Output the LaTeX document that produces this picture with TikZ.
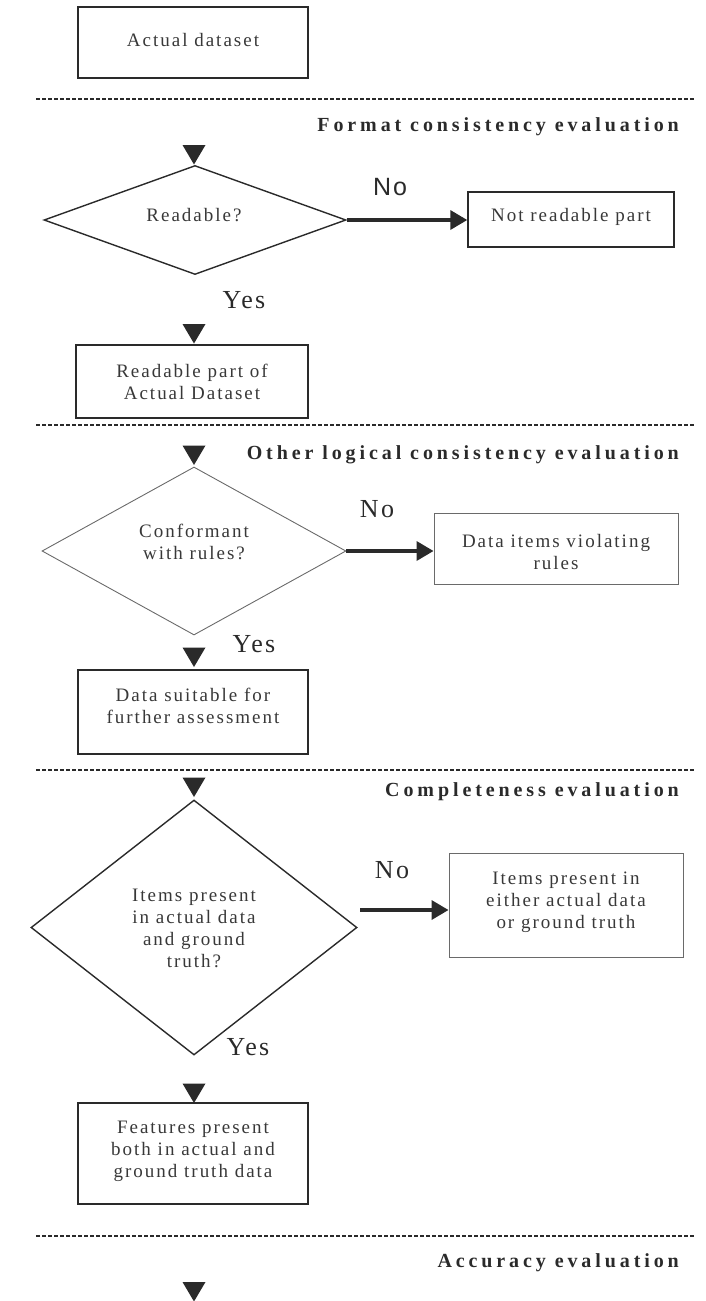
\documentclass[tikz,border=0pt]{standalone}
\usepackage{fontspec}
\setmainfont{Liberation Serif}
\newfontfamily\sansno{Liberation Sans}
\usetikzlibrary{shapes.geometric,arrows.meta}
\definecolor{ink}{HTML}{2a2a2a}
\definecolor{txt}{HTML}{383838}
\definecolor{thin}{HTML}{6a6a6a}
\tikzset{
  bodyfont/.style={font=\fontsize{19}{22}\selectfont\addfontfeature{LetterSpace=10.5}},
  box/.style={draw=ink,line width=1.4pt,rectangle,inner sep=0pt,align=center,text=txt,bodyfont},
  thinbox/.style={box,draw=thin,line width=0.9pt},
  dia/.style={draw=ink,line width=1.4pt,diamond,inner sep=0pt,align=center,text=txt,bodyfont},
  thindia/.style={dia,draw=thin,line width=0.9pt},
  inner/.style={inner sep=0pt,align=center,text=txt,bodyfont},
  title/.style={anchor=east,inner sep=0pt,text=ink,
    font=\fontsize{20}{22}\selectfont\bfseries\addfontfeature{LetterSpace=19.5}},
  yn/.style={inner sep=0pt,text=ink,font=\fontsize{26}{28}\selectfont\addfontfeature{LetterSpace=9}},
  sep/.style={line width=1.7pt,dash pattern=on 4pt off 2pt,draw=ink},
  arr/.style={line width=3.5pt,draw=ink,-{Triangle[length=17pt,width=19pt]}},
  downtri/.pic={\fill[ink] (-11.5,0) -- (11.5,0) -- (0,19.5) -- cycle;}
}
\begin{document}
\begin{tikzpicture}[x=1pt,y=-1pt]
\useasboundingbox (0,0) rectangle (705,1301);
% separators
\coordinate (s1l) at (36,99);   \coordinate (s1r) at (695,99);
\coordinate (s2l) at (36,425);  \coordinate (s2r) at (695,425);
\coordinate (s3l) at (36,770);  \coordinate (s3r) at (695,770);
\coordinate (s4l) at (36,1236); \coordinate (s4r) at (695,1236);
\draw[sep] (s1l) -- (s1r);
\draw[sep] (s2l) -- (s2r);
\draw[sep] (s3l) -- (s3r);
\draw[sep] (s4l) -- (s4r);
% section titles
\node[title] (t1) at (679,127) {Format consistency evaluation};
\node[title] (t2) at (679,455) {Other logical consistency evaluation};
\node[title] (t3) at (679,792) {Completeness evaluation};
\node[title] (t4) at (679,1263) {Accuracy evaluation};
% boxes and decisions
\node[box,minimum width=230pt,minimum height=71pt] (b1) at (193,42.5) {};
\node[inner] (b1t) at (193,40) {Actual dataset};
\node[dia,minimum width=302pt,minimum height=109pt] (d1) at (195,220) {};
\node[inner] (d1t) at (194,215) {Readable?};
\node[box,minimum width=206pt,minimum height=55pt] (nr) at (571,219.5) {};
\node[inner] (nrt) at (571,217) {Not readable part};
\node[box,minimum width=232pt,minimum height=73pt] (rp) at (192,381.5) {Readable part of\\Actual Dataset};
\node[thindia,minimum width=304pt,minimum height=168pt] (d2) at (194,551) {};
\node[inner] (d2t) at (194,542) {Conformant\\with rules?};
\node[thinbox,minimum width=244pt,minimum height=71pt] (dv) at (556,548.5) {};
\node[inner] (dvt) at (556,552) {Data items violating\\rules};
\node[box,minimum width=230pt,minimum height=84pt] (ds) at (193,712) {};
\node[inner] (dst) at (193,706) {Data suitable for\\further assessment};
\node[dia,minimum width=326pt,minimum height=255pt] (d3) at (194,927.5) {};
\node[inner] (d3t) at (194,928) {Items present\\in actual data\\and ground\\truth?};
\node[thinbox,minimum width=234pt,minimum height=104pt] (ip) at (566,905) {};
\node[inner] (ipt) at (566,902) {Items present in\\either actual data\\or ground truth};
\node[box,minimum width=230pt,minimum height=101pt] (fp) at (193,1153.5) {};
\node[inner] (fpt) at (193,1151) {Features present\\both in actual and\\ground truth data};
% yes / no labels
\node[yn,font=\sansno\fontsize{25}{27}\selectfont\addfontfeature{LetterSpace=8}] (no1) at (390,187) {No};
\node[yn] (yes1) at (244,300) {Yes};
\node[yn] (no2) at (377,509) {No};
\node[yn] (yes2) at (254,644) {Yes};
\node[yn] (no3) at (392,870) {No};
\node[yn] (yes3) at (248,1047) {Yes};
% arrows
\draw[arr] (d1.east) -- (d1.east -| nr.west);
\draw[arr] (d2.east) -- (d2.east -| dv.west);
\coordinate (a3) at (360,910);
\draw[arr] (a3) -- (a3 -| ip.west);
% flow markers
\pic at (194,145) {downtri};
\pic at (194,324) {downtri};
\pic at (194,445.5) {downtri};
\pic at (194,647.5) {downtri};
\pic at (194,777.5) {downtri};
\pic at (194,1083.5) {downtri};
\pic at (194,1282) {downtri};
\end{tikzpicture}
\end{document}
